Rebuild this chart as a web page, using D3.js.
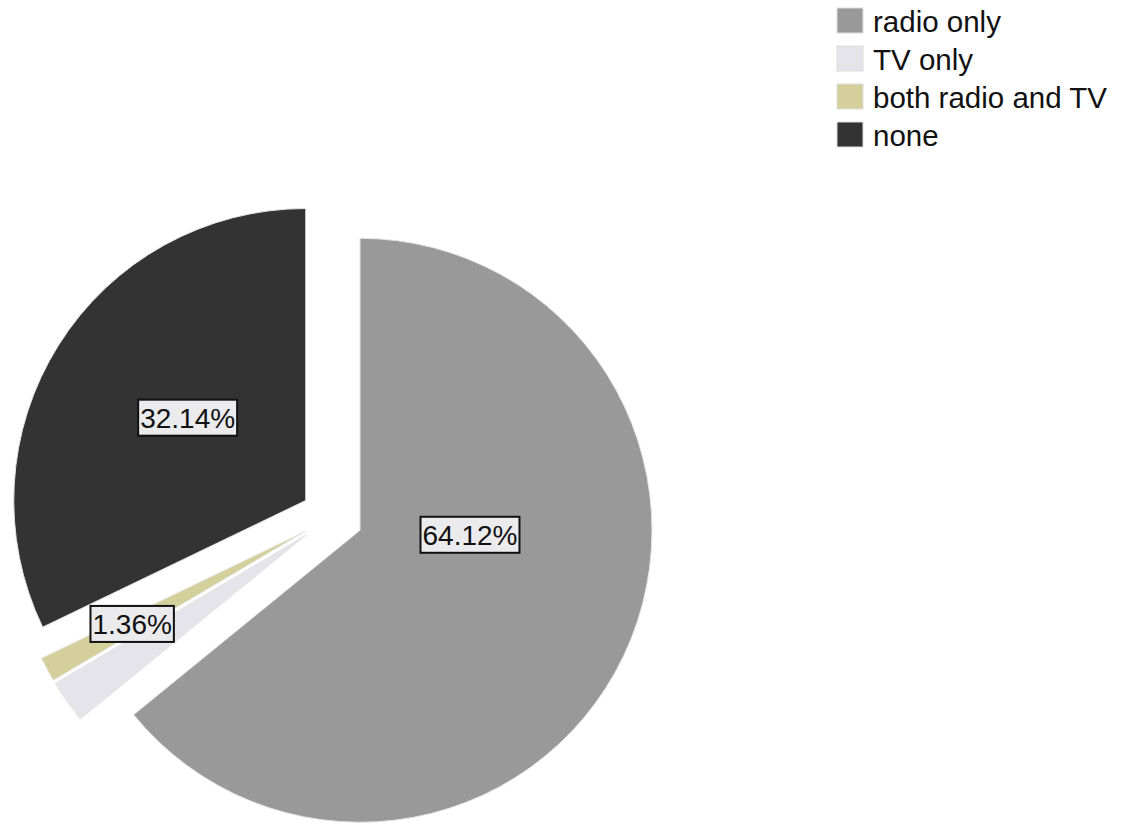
<!DOCTYPE html>
<html>
<head>
<meta charset="utf-8">
<script src="https://cdn.jsdelivr.net/npm/d3@7"></script>
<style>
  body { margin: 0; background: #fff; }
  text { font-family: "Liberation Sans", Arial, sans-serif; }
</style>
</head>
<body>
<div id="chart"></div>
<script>
// data
var categories = ["radio only", "TV only", "both radio and TV", "none"];
var percents = [64.12, 2.38, 1.36, 32.14];
var sliceLabels = ["64.12%", null, "1.36%", "32.14%"];
var sliceColors = ["#999999", "#e4e4ea", "#d4cf9b", "#333333"];

// layout
var width = 1132, height = 825;
var cx = 332, cy = 517, radius = 292, explode = 31;
// where each label sits inside its slice: [fraction of slice angle, fraction of radius]
var labelPlace = [[0.40, 0.377], null, [0.5, 0.67], [0.525, 0.494]];

var svg = d3.select("#chart").append("svg")
    .attr("width", width)
    .attr("height", height);

var pie = d3.pie().sort(null).value(function(d) { return d; });
var arcs = pie(percents);

var arc = d3.arc().innerRadius(0).outerRadius(radius);

function apex(a) {
  var m = (a.startAngle + a.endAngle) / 2;
  return [cx + explode * Math.sin(m), cy - explode * Math.cos(m)];
}

var g = svg.append("g");

g.selectAll("path.slice")
  .data(arcs)
  .enter().append("path")
  .attr("class", "slice")
  .attr("d", arc)
  .attr("transform", function(d) { var p = apex(d); return "translate(" + p[0] + "," + p[1] + ")"; })
  .attr("fill", function(d, i) { return sliceColors[i]; })
  .attr("stroke", "#e6e6e6")
  .attr("stroke-width", 1);

// labels
var lab = g.selectAll("g.lab")
  .data(arcs.filter(function(d, i) { return sliceLabels[i] !== null; }))
  .enter().append("g")
  .attr("class", "lab")
  .attr("transform", function(d) {
    var p = apex(d), f = labelPlace[d.index];
    var ang = d.startAngle + f[0] * (d.endAngle - d.startAngle);
    var r = f[1] * radius;
    return "translate(" + (p[0] + r * Math.sin(ang)) + "," + (p[1] - r * Math.cos(ang)) + ")";
  });

lab.append("rect")
  .attr("fill", "#ebebee")
  .attr("stroke", "#111")
  .attr("stroke-width", 2);

lab.append("text")
  .attr("text-anchor", "middle")
  .attr("dy", "0.36em")
  .attr("font-size", 28)
  .attr("fill", "#111")
  .text(function(d) { return sliceLabels[d.index]; });

lab.each(function() {
  var t = d3.select(this).select("text").node().getBBox();
  d3.select(this).select("rect")
    .attr("x", t.x - 2).attr("y", -18)
    .attr("width", t.width + 4).attr("height", 36);
});

// legend
var legend = svg.append("g").attr("transform", "translate(837,8)");
var rowH = 38;

var item = legend.selectAll("g.item")
  .data(categories)
  .enter().append("g")
  .attr("class", "item")
  .attr("transform", function(d, i) { return "translate(0," + (i * rowH) + ")"; });

item.append("rect")
  .attr("width", 26).attr("height", 25)
  .attr("fill", function(d, i) { return sliceColors[i]; })
  .attr("stroke", "#ddd")
  .attr("stroke-width", 1);

item.append("text")
  .attr("x", 36)
  .attr("y", 24)
  .attr("font-size", 29.5)
  .attr("fill", "#111")
  .text(function(d) { return d; });
</script>
</body>
</html>
